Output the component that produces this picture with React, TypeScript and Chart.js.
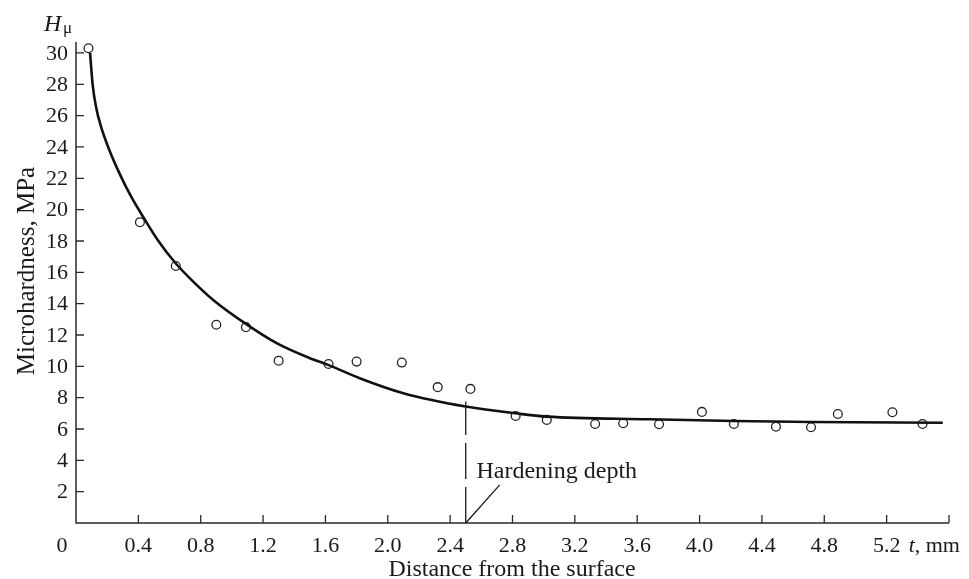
import React, { useEffect, useRef } from "react";
import { Chart, registerables } from "chart.js";

Chart.register(...registerables);

// Measured points: distance from the surface (mm) and microhardness (MPa)
const depthMm = [0.08, 0.41, 0.64, 0.9, 1.09, 1.3, 1.62, 1.8, 2.09, 2.32, 2.53, 2.82, 3.02, 3.33, 3.51, 3.74, 4.015, 4.22, 4.49, 4.715, 4.887, 5.237, 5.43];
const hardness = [30.3, 19.2, 16.4, 12.65, 12.5, 10.36, 10.15, 10.3, 10.24, 8.67, 8.56, 6.83, 6.58, 6.32, 6.37, 6.3, 7.09, 6.32, 6.15, 6.11, 6.96, 7.07, 6.32];

// Fitted curve
const curveX = [0.09, 0.107, 0.128, 0.16, 0.213, 0.278, 0.353, 0.449, 0.524, 0.639, 0.752, 0.88, 1.09, 1.287, 1.5, 1.617, 1.82, 2.1, 2.5, 2.82, 3.02, 3.68, 4.22, 4.72, 5.56];
const curveY = [30.0, 27.97, 26.58, 25.31, 23.82, 22.33, 20.84, 19.24, 18.07, 16.58, 15.41, 14.24, 12.71, 11.48, 10.52, 10.09, 9.24, 8.28, 7.43, 7.0, 6.79, 6.62, 6.51, 6.45, 6.4];

// Axis ticks
const xTicks = [0.4, 0.8, 1.2, 1.6, 2.0, 2.4, 2.8, 3.2, 3.6, 4.0, 4.4, 4.8, 5.2, 5.6];
const xTickLabels = ["0.4", "0.8", "1.2", "1.6", "2.0", "2.4", "2.8", "3.2", "3.6", "4.0", "4.4", "4.8", "5.2", ""];
const yTicks = [2, 4, 6, 8, 10, 12, 14, 16, 18, 20, 22, 24, 26, 28, 30];

const hardeningDepth = 2.5;

const SERIF = '"Liberation Serif", "Times New Roman", serif';

const axesPlugin = {
  id: "customAxes",
  afterDatasetsDraw(chart: any) {
    const ctx = chart.ctx as CanvasRenderingContext2D;
    const xs = chart.scales.x;
    const ys = chart.scales.y;
    const x0 = xs.getPixelForValue(0);
    const y0 = ys.getPixelForValue(0);
    const xEnd = xs.getPixelForValue(xs.max);
    const yTop = ys.getPixelForValue(ys.max);
    ctx.save();
    ctx.strokeStyle = "#2a2a2a";
    ctx.lineWidth = 1.5;
    ctx.beginPath();
    ctx.moveTo(x0, yTop);
    ctx.lineTo(x0, y0);
    ctx.lineTo(xEnd, y0);
    ctx.stroke();

    // ticks
    ctx.lineWidth = 1.3;
    ctx.beginPath();
    xTicks.forEach((v) => {
      const px = xs.getPixelForValue(v);
      ctx.moveTo(px, y0);
      ctx.lineTo(px, y0 - 8);
    });
    yTicks.forEach((v) => {
      const py = ys.getPixelForValue(v);
      ctx.moveTo(x0, py);
      ctx.lineTo(x0 + 8, py);
    });
    ctx.stroke();

    ctx.fillStyle = "#1a1a1a";
    ctx.font = `22px ${SERIF}`;
    ctx.textAlign = "right";
    ctx.textBaseline = "middle";
    yTicks.forEach((v) => {
      ctx.fillText(String(v), x0 - 8, ys.getPixelForValue(v) + 1);
    });
    ctx.textAlign = "center";
    ctx.textBaseline = "alphabetic";
    xTicks.forEach((v, i) => {
      if (xTickLabels[i]) ctx.fillText(xTickLabels[i], xs.getPixelForValue(v), y0 + 29);
    });
    ctx.fillText("0", x0 - 14, y0 + 29);

    // t, mm
    ctx.textAlign = "left";
    const tx = xs.getPixelForValue(5.2) + 22;
    ctx.font = `italic 22px ${SERIF}`;
    ctx.fillText("t", tx, y0 + 29);
    const tw = ctx.measureText("t").width;
    ctx.font = `22px ${SERIF}`;
    ctx.fillText(", mm", tx + tw, y0 + 29);

    // x title
    ctx.textAlign = "center";
    ctx.font = `24px ${SERIF}`;
    ctx.fillText("Distance from the surface", 512, 576);

    // y title
    ctx.save();
    ctx.translate(27, 271);
    ctx.rotate(-Math.PI / 2);
    ctx.textBaseline = "middle";
    ctx.font = `25px ${SERIF}`;
    ctx.fillText("Microhardness, MPa", 0, 0);
    ctx.restore();

    // H_mu
    ctx.textAlign = "left";
    ctx.font = `italic 24px ${SERIF}`;
    ctx.fillText("H", 44, 31);
    ctx.font = `17px ${SERIF}`;
    ctx.fillText("\u03bc", 63, 33);

    // hardening depth marker
    const hx = xs.getPixelForValue(hardeningDepth);
    ctx.strokeStyle = "#1a1a1a";
    ctx.lineWidth = 1.3;
    ctx.setLineDash([36, 8]);
    ctx.beginPath();
    ctx.moveTo(hx, y0);
    ctx.lineTo(hx, ys.getPixelForValue(7.75));
    ctx.stroke();
    ctx.setLineDash([]);
    ctx.beginPath();
    ctx.moveTo(hx, y0);
    ctx.lineTo(xs.getPixelForValue(2.718), ys.getPixelForValue(2.43));
    ctx.stroke();
    ctx.font = `24px ${SERIF}`;
    ctx.fillText("Hardening depth", xs.getPixelForValue(2.569), ys.getPixelForValue(2.85));
    ctx.restore();
  },
};

export default function App() {
  const ref = useRef<HTMLCanvasElement | null>(null);
  useEffect(() => {
    if (!ref.current) return;
    const chart = new Chart(ref.current, {
      type: "scatter",
      data: {
        datasets: [
          {
            label: "fit",
            data: curveX.map((x, i) => ({ x, y: curveY[i] })),
            showLine: true,
            borderColor: "#111",
            borderWidth: 2.6,
            pointRadius: 0,
            cubicInterpolationMode: "monotone",
            fill: false,
          },
          {
            label: "measured",
            data: depthMm.map((x, i) => ({ x, y: hardness[i] })),
            showLine: false,
            borderColor: "#222",
            backgroundColor: "rgba(0,0,0,0)",
            borderWidth: 1.3,
            pointRadius: 4.4,
            pointStyle: "circle",
          },
        ],
      },
      options: {
        animation: false,
        responsive: false,
        devicePixelRatio: 1,
        layout: { padding: { left: 76, right: 20, top: 42, bottom: 56 } },
        plugins: { legend: { display: false }, tooltip: { enabled: false } },
        scales: {
          x: { type: "linear", min: 0, max: 5.6, display: false },
          y: { type: "linear", min: 0, max: 30.7, display: false },
        },
      },
      plugins: [axesPlugin],
    });
    return () => chart.destroy();
  }, []);
  return (
    <div style={{ position: "fixed", left: 0, top: 0, width: 969, height: 579, background: "#fff" }}>
      <canvas ref={ref} width={969} height={579} />
    </div>
  );
}
